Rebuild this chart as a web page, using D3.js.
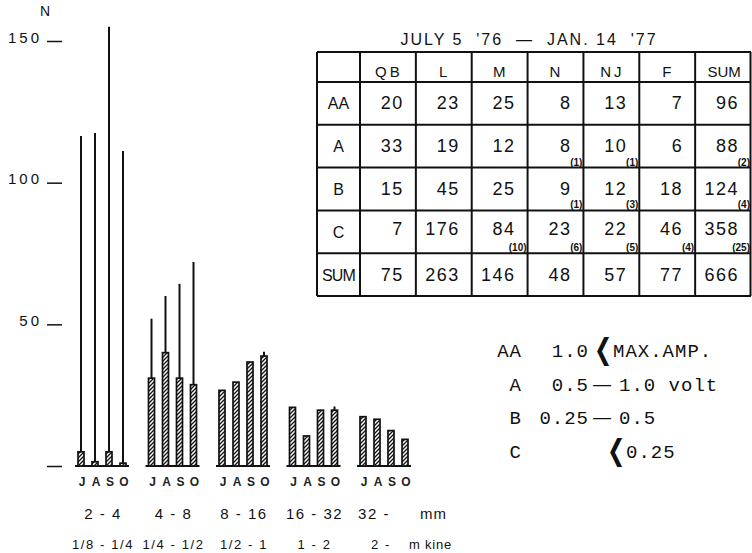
<!DOCTYPE html>
<html>
<head>
<meta charset="utf-8">
<script src="https://cdn.jsdelivr.net/npm/d3@7"></script>
<style>
  body { margin: 0; background: #fff; }
  svg { display: block; font-family: "Liberation Sans", Arial, sans-serif; }
</style>
</head>
<body>
<div id="chart"></div>
<script>
  // bar chart data: grain size classes, months, counts
  const sizeLabels = ["2 - 4", "4 - 8", "8 - 16", "16 - 32", "32 -"];
  const kineLabels = ["1/8 - 1/4", "1/4 - 1/2", "1/2 - 1", "1 - 2", "2 -"];
  const months = ["J", "A", "S", "O"];
  const barValues = [
    [5, 1.5, 5, 1],
    [31, 40, 31, 28.7],
    [26.7, 29.6, 36.7, 38.8],
    [20.7, 10.6, 19.7, 19.7],
    [17.4, 16.5, 12.5, 9.4]
  ];
  const lineValues = [
    [116.5, 117.5, 155, 111.2],
    [52, 60, 64.3, 72],
    [null, null, null, 40.3],
    [null, null, null, 21],
    [null, null, null, null]
  ];
  const yTicks = [0, 50, 100, 150];

  // table data
  const tableTitle = "JULY 5  '76  —  JAN. 14  '77";
  const tableCols = ["QB", "L", "M", "N", "NJ", "F", "SUM"];
  const tableRows = ["AA", "A", "B", "C", "SUM"];
  const tableCounts = [
    [20, 23, 25, 8, 13, 7, 96],
    [33, 19, 12, 8, 10, 6, 88],
    [15, 45, 25, 9, 12, 18, 124],
    [7, 176, 84, 23, 22, 46, 358],
    [75, 263, 146, 48, 57, 77, 666]
  ];
  const tableNotes = [
    [null, null, null, null, null, null, null],
    [null, null, null, 1, 1, null, 2],
    [null, null, null, 1, 3, null, 4],
    [null, null, 10, 6, 5, 4, 25],
    [null, null, null, null, null, null, null]
  ];

  // legend
  const legendClasses = ["AA", "A", "B", "C"];
  const legendLow = ["1.0", "0.5", "0.25", ""];
  const legendSep = ["❮", "—", "—", "❮"];
  const legendHigh = ["MAX.AMP.", "1.0 volt", "0.5", "0.25"];

  const W = 752, H = 553;

  const svg = d3.select("#chart")
    .append("svg")
    .attr("width", W)
    .attr("height", H);

  const defs = svg.append("defs");
  const pat = defs.append("pattern")
    .attr("id", "hatch")
    .attr("patternUnits", "userSpaceOnUse")
    .attr("width", 4)
    .attr("height", 4);
  pat.append("rect").attr("width", 4).attr("height", 4).attr("fill", "#fff");
  pat.append("path")
    .attr("d", "M-1,1 L1,-1 M0,4 L4,0 M3,5 L5,3")
    .attr("stroke", "#111")
    .attr("stroke-width", 1.3);

  // scales
  const y = d3.scaleLinear()
    .domain([0, 150])
    .range([466, 41]);

  const x0 = d3.scaleBand()
    .domain(sizeLabels)
    .range([66.75, 419.25]);

  const x1 = d3.scalePoint()
    .domain(months)
    .range([-21, 21]);

  const gc = g => x0(g) + x0.bandwidth() / 2;

  // y axis
  const yAxis = svg.append("g")
    .attr("transform", "translate(62,0)")
    .call(d3.axisLeft(y)
      .tickValues(yTicks)
      .tickSize(15)
      .tickPadding(5)
      .tickFormat(d => d === 0 ? "" : d));
  yAxis.select(".domain").remove();
  yAxis.selectAll(".tick line").attr("stroke", "#111").attr("stroke-width", 1.5);
  yAxis.selectAll(".tick text")
    .attr("dy", "0.08em")
    .attr("fill", "#111")
    .style("font-size", "15px")
    .style("letter-spacing", "3px")
    .style("font-family", "Liberation Sans, Arial, sans-serif");

  svg.append("text")
    .attr("x", 45)
    .attr("y", 16)
    .attr("text-anchor", "middle")
    .style("font-size", "14px")
    .attr("fill", "#111")
    .text("N");

  const flat = [];
  sizeLabels.forEach((g, i) => {
    months.forEach((m, j) => {
      flat.push({ group: g, month: m, value: barValues[i][j], top: lineValues[i][j] });
    });
  });

  // group baselines
  svg.selectAll(".base")
    .data(sizeLabels)
    .enter()
    .append("line")
    .attr("class", "base")
    .attr("x1", d => gc(d) + x1("J") - 6)
    .attr("x2", d => gc(d) + x1("O") + 6)
    .attr("y1", y(0))
    .attr("y2", y(0))
    .attr("stroke", "#111")
    .attr("stroke-width", 2);

  // whisker lines
  svg.selectAll(".whisk")
    .data(flat.filter(d => d.top != null))
    .enter()
    .append("line")
    .attr("class", "whisk")
    .attr("x1", d => gc(d.group) + x1(d.month))
    .attr("x2", d => gc(d.group) + x1(d.month))
    .attr("y1", d => y(d.value))
    .attr("y2", d => y(d.top))
    .attr("stroke", "#111")
    .attr("stroke-width", 2);

  // hatched bars
  svg.selectAll(".bar")
    .data(flat)
    .enter()
    .append("rect")
    .attr("class", "bar")
    .attr("x", d => gc(d.group) + x1(d.month) - 3)
    .attr("width", 6)
    .attr("y", d => y(d.value))
    .attr("height", d => y(0) - y(d.value))
    .attr("fill", "url(#hatch)")
    .attr("stroke", "#111")
    .attr("stroke-width", 1.7);

  // month labels
  svg.selectAll(".mon")
    .data(flat)
    .enter()
    .append("text")
    .attr("class", "mon")
    .attr("x", d => gc(d.group) + x1(d.month) + 1)
    .attr("y", 486)
    .attr("text-anchor", "middle")
    .style("font-size", "12px")
    .style("font-weight", "bold")
    .attr("fill", "#222")
    .text(d => d.month);

  svg.selectAll(".size")
    .data(sizeLabels)
    .enter()
    .append("text")
    .attr("class", "size")
    .attr("x", (d, i) => gc(d) + (i === sizeLabels.length - 1 ? -10 : 1))
    .attr("y", 519)
    .attr("text-anchor", "middle")
    .style("font-size", "15px")
    .style("letter-spacing", "1.5px")
    .attr("fill", "#111")
    .text(d => d);

  svg.selectAll(".kine")
    .data(kineLabels)
    .enter()
    .append("text")
    .attr("class", "kine")
    .attr("x", (d, i) => gc(sizeLabels[i]) + (i === kineLabels.length - 1 ? -3 : 1))
    .attr("y", 549)
    .attr("text-anchor", "middle")
    .style("font-size", "13px")
    .style("letter-spacing", "1.6px")
    .attr("fill", "#111")
    .text(d => d);

  svg.append("text")
    .attr("x", 420).attr("y", 519)
    .style("font-size", "15px").style("letter-spacing", "1px")
    .attr("fill", "#111").text("mm");
  svg.append("text")
    .attr("x", 409).attr("y", 549)
    .style("font-size", "13px").style("letter-spacing", "0.8px")
    .attr("fill", "#111").text("m kine");

  // ---- table ----
  const tx = d3.scaleBand().domain(tableCols).range([360, 751]);
  const ty = d3.scaleBand().domain(tableRows).range([82, 296]);
  const tLeft = 317, tTop = 52;

  const tbl = svg.append("g");

  tbl.append("text")
    .attr("x", 529)
    .attr("y", 45)
    .attr("text-anchor", "middle")
    .style("font-size", "16px")
    .style("letter-spacing", "2px")
    .style("white-space", "pre")
    .attr("fill", "#111")
    .text(tableTitle);

  const colEdges = [tLeft].concat(tableCols.map(c => tx(c))).concat([tx(tableCols[6]) + tx.bandwidth()]);
  const rowEdges = [tTop].concat(tableRows.map(r => ty(r))).concat([ty(tableRows[4]) + ty.bandwidth()]);

  tbl.selectAll(".vl")
    .data(colEdges)
    .enter()
    .append("line")
    .attr("x1", d => Math.min(d, 750.5)).attr("x2", d => Math.min(d, 750.5))
    .attr("y1", tTop).attr("y2", rowEdges[rowEdges.length - 1])
    .attr("stroke", "#111").attr("stroke-width", 2);

  tbl.selectAll(".hl")
    .data(rowEdges)
    .enter()
    .append("line")
    .attr("x1", tLeft).attr("x2", 751)
    .attr("y1", d => d).attr("y2", d => d)
    .attr("stroke", "#111").attr("stroke-width", 2);

  tbl.selectAll(".colh")
    .data(tableCols)
    .enter()
    .append("text")
    .attr("x", d => tx(d) + tx.bandwidth() / 2 + 1)
    .attr("y", 77)
    .attr("text-anchor", "middle")
    .style("font-size", "15px")
    .style("letter-spacing", d => d === "SUM" ? "0px" : "3px")
    .attr("fill", "#111")
    .text(d => d);

  tbl.selectAll(".rowh")
    .data(tableRows)
    .enter()
    .append("text")
    .attr("x", (tLeft + tx(tableCols[0])) / 2)
    .attr("y", d => ty(d) + ty.bandwidth() / 2 + 6)
    .attr("text-anchor", "middle")
    .style("font-size", "16px")
    .style("letter-spacing", d => d === "SUM" ? "-0.8px" : "0px")
    .attr("fill", "#111")
    .text(d => d);

  const cells = [];
  tableRows.forEach((r, i) => {
    tableCols.forEach((c, j) => {
      cells.push({ row: r, col: c, n: tableCounts[i][j], note: tableNotes[i][j] });
    });
  });

  tbl.selectAll(".cell")
    .data(cells)
    .enter()
    .append("text")
    .attr("x", d => tx(d.col) + tx.bandwidth() - 12)
    .attr("y", d => ty(d.row) + ty.bandwidth() / 2 + (d.row === "C" ? 3 : 6))
    .attr("text-anchor", "end")
    .style("font-size", "18px")
    .style("letter-spacing", "1.5px")
    .attr("fill", "#111")
    .text(d => d.n);

  tbl.selectAll(".note")
    .data(cells.filter(d => d.note != null))
    .enter()
    .append("text")
    .attr("x", d => tx(d.col) + tx.bandwidth() - 1)
    .attr("y", d => ty(d.row) + ty.bandwidth() - 2)
    .attr("text-anchor", "end")
    .style("font-size", "10px")
    .style("font-weight", "bold")
    .attr("fill", "#111")
    .text(d => "(" + d.note + ")");

  // ---- legend ----
  const ly = d3.scalePoint().domain(legendClasses).range([357, 458]);
  const leg = svg.append("g")
    .style("font-family", "Liberation Mono, Courier New, monospace")
    .style("font-size", "19px")
    .style("letter-spacing", "1px")
    .attr("fill", "#111");

  legendClasses.forEach((c, i) => {
    const yy = ly(c);
    leg.append("text").attr("x", 522).attr("y", yy).attr("text-anchor", "end").text(c);
    if (legendLow[i]) {
      leg.append("text").attr("x", 589).attr("y", yy).attr("text-anchor", "end").text(legendLow[i]);
    }
    const isChev = legendSep[i] === "❮";
    const sx = isChev ? (legendLow[i] ? 594 : 607) : 593;
    const sep = leg.append("text")
      .style("font-family", isChev ? "DejaVu Sans, sans-serif" : "Liberation Sans, Arial, sans-serif")
      .style("font-size", isChev ? "20px" : "18px")
      .style("letter-spacing", "0px")
      .text(legendSep[i]);
    if (isChev) {
      sep.attr("transform", `translate(${sx},${yy + 2}) scale(1.1,1.45)`);
    } else {
      sep.attr("x", sx).attr("y", yy - 1);
    }
    leg.append("text")
      .attr("x", sx + (isChev ? 19 : 26))
      .attr("y", yy)
      .text(legendHigh[i]);
  });
</script>
</body>
</html>
